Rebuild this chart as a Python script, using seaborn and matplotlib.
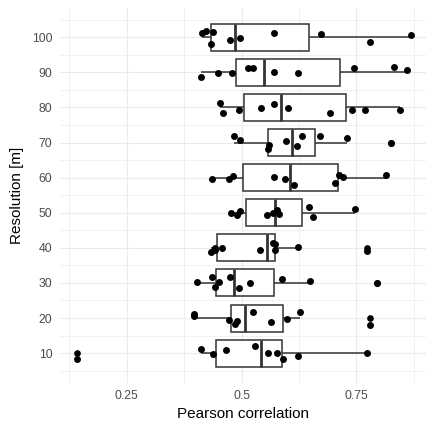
import numpy as np
import pandas as pd
import matplotlib
matplotlib.use('Agg')
import matplotlib.pyplot as plt
import seaborn as sns

# Pearson correlation per resolution [m]
r10 = [0.141, 0.412, 0.437, 0.467, 0.530, 0.557, 0.578, 0.591, 0.624, 0.773]
r20 = [0.396, 0.396, 0.473, 0.486, 0.490, 0.524, 0.564, 0.600, 0.628, 0.780]
r30 = [0.404, 0.436, 0.443, 0.452, 0.474, 0.494, 0.519, 0.588, 0.650, 0.796]
r40 = [0.434, 0.442, 0.443, 0.457, 0.541, 0.568, 0.572, 0.574, 0.624, 0.773]
r50 = [0.477, 0.491, 0.496, 0.555, 0.569, 0.577, 0.582, 0.648, 0.656, 0.747]
r60 = [0.435, 0.472, 0.481, 0.571, 0.595, 0.615, 0.703, 0.712, 0.721, 0.814]
r70 = [0.484, 0.497, 0.557, 0.560, 0.598, 0.621, 0.632, 0.670, 0.730, 0.826]
r80 = [0.453, 0.460, 0.494, 0.543, 0.571, 0.601, 0.692, 0.740, 0.770, 0.845]
r90 = [0.412, 0.449, 0.480, 0.514, 0.526, 0.570, 0.623, 0.744, 0.833, 0.861]
r100 = [0.415, 0.423, 0.433, 0.438, 0.475, 0.496, 0.570, 0.674, 0.779, 0.870]

resolutions = [10, 20, 30, 40, 50, 60, 70, 80, 90, 100]
groups = [r10, r20, r30, r40, r50, r60, r70, r80, r90, r100]

x_ticks = [0.25, 0.5, 0.75]
x_tick_labels = ['0.25', '0.5', '0.75']

rows = []
for res, vals in zip(resolutions, groups):
    for v in vals:
        rows.append({'resolution': res, 'correlation': v})
df = pd.DataFrame(rows)

sns.set_theme(style='whitegrid')
plt.rcParams['font.family'] = ['Liberation Sans', 'DejaVu Sans']

fig = plt.figure(figsize=(4.27, 4.28), dpi=100)
ax = fig.add_axes([60/427, 1 - 383/428, 1 - 60/427, (383 - 7)/428])

sns.boxplot(data=df, x='correlation', y='resolution', orient='y', native_scale=True,
            width=0.77, color='white', linecolor='#333333', linewidth=1.1,
            fliersize=4.8,
            flierprops=dict(marker='o', markerfacecolor='black', markeredgecolor='black',
                            markeredgewidth=0),
            medianprops=dict(linewidth=2.0),
            capprops=dict(linewidth=0),
            ax=ax)

# jittered raw points on top of the boxes
np.random.seed(7)
sns.stripplot(data=df, x='correlation', y='resolution', orient='y', native_scale=True,
              jitter=0.2, color='black', size=5, linewidth=0, ax=ax, zorder=3)

ax.set_xlim(0.1047, 0.904)
ax.set_ylim(1.5, 108.6)
ax.set_xticks(x_ticks)
ax.set_xticklabels(x_tick_labels)
ax.set_xticks([0.125, 0.375, 0.625, 0.875], minor=True)
ax.set_yticks(resolutions)
ax.set_yticklabels([str(r) for r in resolutions])
ax.set_yticks([r - 5 for r in resolutions] + [105], minor=True)

ax.grid(which='major', color='#EBEBEB', linewidth=0.8)
ax.grid(which='minor', color='#EBEBEB', linewidth=0.5)
ax.set_axisbelow(True)
for s in ax.spines.values():
    s.set_visible(False)
ax.tick_params(which='both', length=0)
ax.tick_params(axis='both', labelsize=8.8, labelcolor='#4D4D4D')
ax.tick_params(axis='y', pad=5.5)
ax.tick_params(axis='x', pad=5)

ax.set_xlabel('Pearson correlation', fontsize=11, color='black', labelpad=4)
ax.set_ylabel('Resolution [m]', fontsize=11, color='black', labelpad=6)

fig.savefig('out.png', dpi=100)
